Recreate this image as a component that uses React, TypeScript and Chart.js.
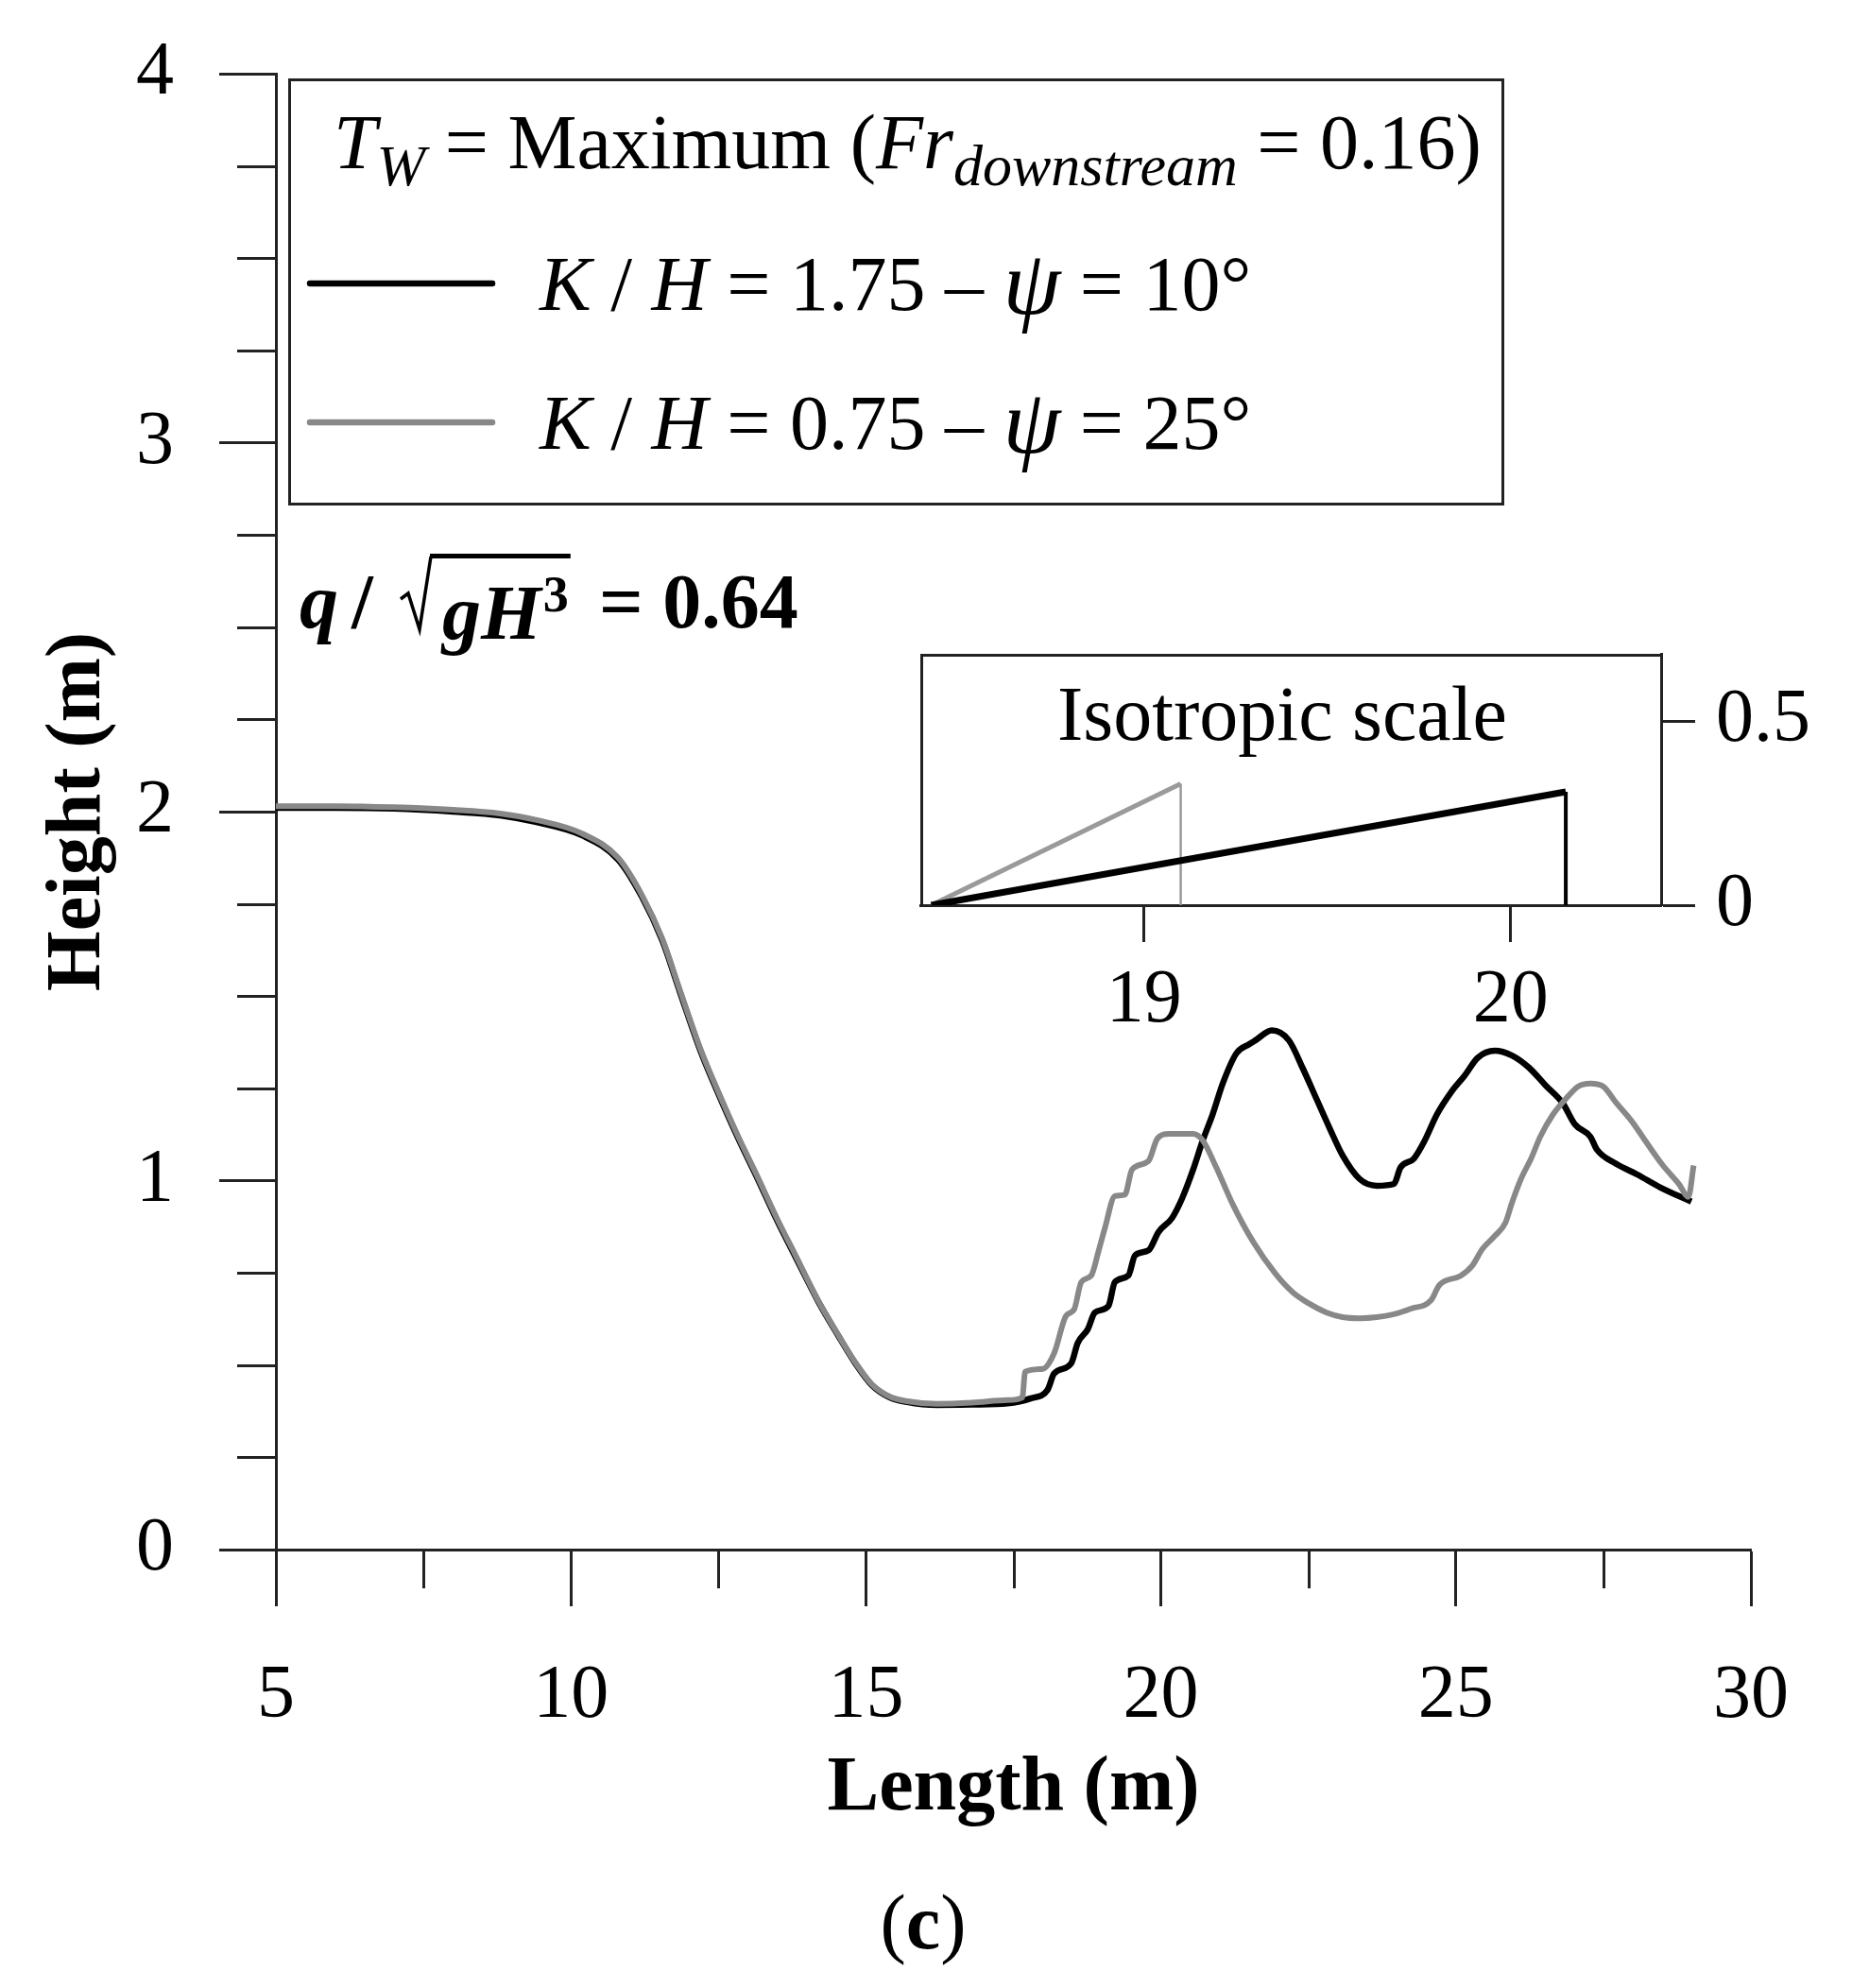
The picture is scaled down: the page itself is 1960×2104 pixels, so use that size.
import React, { useEffect, useRef } from "react";
import { Chart, registerables } from "chart.js";

Chart.register(...registerables);

const SERIF = "'Liberation Serif', 'Times New Roman', serif";
const AXIS = "#222";

// ---- Main chart data (Length in m, Height in m) ----
const lengthK175 = [5.0, 6.0, 7.0, 8.0, 8.8, 9.4, 10.2, 10.8, 11.2, 11.55, 11.85, 12.2, 12.5, 12.82, 13.15, 13.5, 13.8, 14.2, 14.53, 14.82, 15.1, 15.4, 15.7, 16.2, 16.8, 17.4, 17.8, 18.08, 18.19, 18.48, 18.59, 18.76, 18.88, 19.11, 19.22, 19.45, 19.56, 19.79, 19.96, 20.19, 20.36, 20.54, 20.71, 20.88, 21.05, 21.28, 21.5, 21.6, 21.88, 22.17, 22.4, 22.63, 22.86, 23.08, 23.37, 23.66, 23.95, 24.06, 24.29, 24.46, 24.68, 24.92, 25.15, 25.37, 25.66, 25.95, 26.24, 26.52, 26.81, 27.02, 27.28, 27.39, 27.71, 28.08, 28.46, 28.99];
const heightK175 = [2.01, 2.01, 2.008, 2.0, 1.99, 1.972, 1.935, 1.87, 1.77, 1.65, 1.51, 1.35, 1.235, 1.12, 1.01, 0.89, 0.795, 0.67, 0.58, 0.505, 0.446, 0.413, 0.4, 0.392, 0.393, 0.396, 0.41, 0.433, 0.477, 0.505, 0.56, 0.597, 0.642, 0.66, 0.725, 0.743, 0.797, 0.811, 0.861, 0.899, 0.952, 1.027, 1.109, 1.181, 1.264, 1.345, 1.37, 1.38, 1.407, 1.38, 1.306, 1.224, 1.142, 1.068, 1.004, 0.986, 0.991, 1.035, 1.06, 1.105, 1.18, 1.24, 1.285, 1.333, 1.352, 1.339, 1.306, 1.258, 1.21, 1.152, 1.119, 1.084, 1.046, 1.016, 0.982, 0.943];

const lengthK075 = [5.0, 6.0, 7.0, 8.0, 8.8, 9.4, 10.2, 10.8, 11.2, 11.55, 11.85, 12.2, 12.5, 12.82, 13.15, 13.5, 13.8, 14.2, 14.53, 14.82, 15.1, 15.4, 15.7, 16.2, 16.8, 17.4, 17.65, 17.7, 18.0, 18.19, 18.39, 18.53, 18.65, 18.82, 18.94, 19.05, 19.22, 19.39, 19.51, 19.79, 19.94, 20.14, 20.54, 20.71, 20.94, 21.22, 21.56, 21.94, 22.23, 22.52, 22.8, 23.08, 23.37, 23.66, 23.95, 24.24, 24.58, 24.72, 25.08, 25.28, 25.45, 25.66, 25.84, 25.95, 26.11, 26.27, 26.43, 26.64, 26.86, 27.07, 27.28, 27.5, 27.71, 27.98, 28.24, 28.51, 28.78, 28.94, 29.03];
const heightK075 = [2.015, 2.015, 2.012, 2.005, 1.995, 1.978, 1.94, 1.875, 1.775, 1.655, 1.515, 1.355, 1.24, 1.125, 1.015, 0.895, 0.8, 0.672, 0.582, 0.507, 0.448, 0.415, 0.402, 0.395, 0.398, 0.405, 0.412, 0.482, 0.49, 0.532, 0.633, 0.651, 0.725, 0.743, 0.807, 0.871, 0.958, 0.962, 1.03, 1.053, 1.114, 1.127, 1.127, 1.109, 1.035, 0.935, 0.835, 0.748, 0.698, 0.666, 0.643, 0.63, 0.627, 0.63, 0.638, 0.653, 0.676, 0.717, 0.742, 0.77, 0.815, 0.85, 0.886, 0.94, 1.007, 1.058, 1.119, 1.178, 1.221, 1.255, 1.263, 1.255, 1.212, 1.161, 1.101, 1.041, 0.991, 0.956, 1.041];

const seriesLabels = ["K / H = 1.75 – ψ = 10°", "K / H = 0.75 – ψ = 25°"];
const seriesColors = ["#000000", "#888888"];

const xTickLabels = [5, 10, 15, 20, 25, 30];
const yTickLabels = [0, 1, 2, 3, 4];

// ---- Inset (isotropic scale) data ----
const insetLengthK175 = [18.42, 20.15, 20.15];
const insetHeightK175 = [0, 0.308, 0];
const insetLengthK075 = [18.42, 19.1, 19.1];
const insetHeightK075 = [0, 0.33, 0];
const insetXTicks = [19, 20];
const insetYTicks = [0, 0.5];

const toPoints = (xs: number[], ys: number[]) => xs.map((x, i) => ({ x, y: ys[i] }));

const R = (s: number) => `${s}px ${SERIF}`;
const I = (s: number) => `italic ${s}px ${SERIF}`;
const B = (s: number) => `bold ${s}px ${SERIF}`;
const BI = (s: number) => `italic bold ${s}px ${SERIF}`;

type Run = { t: string; font: string; dy?: number; x?: number };

function drawRuns(ctx: CanvasRenderingContext2D, x: number, y: number, runs: Run[]) {
  let cx = x;
  for (const r of runs) {
    if (r.x !== undefined) cx = r.x;
    ctx.font = r.font;
    ctx.fillText(r.t, cx, y + (r.dy || 0));
    cx += ctx.measureText(r.t).width;
  }
  return cx;
}

function measureRuns(ctx: CanvasRenderingContext2D, runs: Run[]) {
  let w = 0;
  for (const r of runs) {
    ctx.font = r.font;
    w += ctx.measureText(r.t).width;
  }
  return w;
}

function richLabel(label: string, size: number): Run[] {
  return label
    .split(/(K|H|ψ)/)
    .filter((s) => s.length > 0)
    .map((s) => {
      if (s === "ψ") return { t: s, font: I(Math.round(size * 1.2)), dy: 4 };
      if (s === "K" || s === "H") return { t: s, font: I(size) };
      return { t: s, font: R(size) };
    });
}

const decorPlugin = {
  id: "decor",
  afterDraw(chart: any) {
    const ctx: CanvasRenderingContext2D = chart.ctx;
    const xs = chart.scales.x;
    const ys = chart.scales.y;
    const area = chart.chartArea;
    ctx.save();
    // minor ticks
    ctx.strokeStyle = AXIS;
    ctx.lineWidth = 3;
    ctx.beginPath();
    for (const t of xs.ticks) {
      if (xTickLabels.includes(t.value)) continue;
      const px = Math.round(xs.getPixelForValue(t.value)) + 0.5;
      ctx.moveTo(px, area.bottom);
      ctx.lineTo(px, area.bottom + 41);
    }
    for (const t of ys.ticks) {
      if (yTickLabels.includes(t.value)) continue;
      const py = Math.round(ys.getPixelForValue(t.value)) + 0.5;
      ctx.moveTo(area.left - 41, py);
      ctx.lineTo(area.left, py);
    }
    ctx.stroke();

    // legend box
    ctx.lineWidth = 3;
    ctx.strokeStyle = AXIS;
    ctx.strokeRect(306.5, 84.5, 1284, 449);
    ctx.fillStyle = "#000";
    ctx.textBaseline = "alphabetic";
    ctx.textAlign = "left";
    drawRuns(ctx, 353, 178, [
      { t: "T", font: I(82) },
      { t: "W", font: I(62), dy: 18 },
      { t: " = Maximum (", font: R(82) },
      { t: "Fr", font: I(82) },
      { t: "downstream", font: I(62), dy: 18 },
      { t: " = 0.16)", font: R(82) },
    ]);
    const rowY = [300, 447];
    const datasets = chart.data.datasets;
    for (let i = 0; i < 2; i++) {
      const ds = datasets[i];
      ctx.strokeStyle = ds.borderColor;
      ctx.lineWidth = 6.5;
      ctx.lineCap = "round";
      ctx.beginPath();
      ctx.moveTo(328, rowY[i]);
      ctx.lineTo(521, rowY[i]);
      ctx.stroke();
      ctx.fillStyle = "#000";
      drawRuns(ctx, 571, rowY[i] + 28, richLabel(ds.label, 82));
    }
    ctx.lineCap = "butt";

    // annotation q / sqrt(gH^3) = 0.64
    ctx.fillStyle = "#000";
    const by = 664;
    drawRuns(ctx, 317, by, [{ t: "q", font: BI(82) }]);
    drawRuns(ctx, 372, by, [{ t: "/", font: B(82) }]);
    ctx.strokeStyle = "#000";
    ctx.lineWidth = 3.5;
    ctx.beginPath();
    ctx.moveTo(424, 634);
    ctx.lineTo(432, 628);
    ctx.lineTo(444, 666);
    ctx.lineTo(456, 589);
    ctx.stroke();
    const endG = drawRuns(ctx, 468, by + 12, [{ t: "gH", font: BI(82) }]);
    const end3 = drawRuns(ctx, endG + 2, 647, [{ t: "3", font: B(54) }]);
    ctx.fillRect(455, 586, end3 - 455 + 2, 5);
    drawRuns(ctx, 634, by, [{ t: "= 0.64", font: B(82) }]);

    // (c)
    const cRuns: Run[] = [
      { t: "(", font: R(82) },
      { t: "c", font: B(82) },
      { t: ")", font: R(82) },
    ];
    const cw = measureRuns(ctx, cRuns);
    drawRuns(ctx, 977 - cw / 2, 2062, cRuns);
    ctx.restore();
  },
};

const insetPlugin = {
  id: "insetDecor",
  afterDraw(chart: any) {
    const ctx: CanvasRenderingContext2D = chart.ctx;
    const a = chart.chartArea;
    ctx.save();
    ctx.strokeStyle = AXIS;
    ctx.lineWidth = 3;
    ctx.beginPath();
    ctx.moveTo(a.left + 1.5, a.bottom);
    ctx.lineTo(a.left + 1.5, a.top + 1.5);
    ctx.lineTo(a.right, a.top + 1.5);
    ctx.stroke();
    ctx.fillStyle = "#000";
    ctx.font = R(82);
    ctx.textAlign = "center";
    ctx.textBaseline = "alphabetic";
    ctx.fillText("Isotropic scale", 407, 103);
    ctx.restore();
  },
};

const tickFont = { family: SERIF, size: 80 };

export default function App() {
  const mainRef = useRef<HTMLCanvasElement | null>(null);
  const insetRef = useRef<HTMLCanvasElement | null>(null);

  useEffect(() => {
    document.body.style.margin = "0";
    document.body.style.overflow = "hidden";
    document.body.style.background = "#fff";
    if (!mainRef.current || !insetRef.current) return;

    const main = new Chart(mainRef.current, {
      type: "line",
      data: {
        datasets: [
          {
            label: seriesLabels[0],
            data: toPoints(lengthK175, heightK175),
            borderColor: seriesColors[0],
            borderWidth: 6.5,
            pointRadius: 0,
            cubicInterpolationMode: "monotone",
            fill: false,
            order: 1,
          },
          {
            label: seriesLabels[1],
            data: toPoints(lengthK075, heightK075),
            borderColor: seriesColors[1],
            borderWidth: 6,
            pointRadius: 0,
            cubicInterpolationMode: "monotone",
            fill: false,
            order: 0,
          },
        ],
      },
      options: {
        responsive: false,
        animation: false,
        devicePixelRatio: 1,
        layout: { padding: { top: 78, right: 107, left: 0, bottom: 0 } },
        plugins: { legend: { display: false }, tooltip: { enabled: false } },
        scales: {
          x: {
            type: "linear",
            min: 5,
            max: 30,
            ticks: {
              stepSize: 2.5,
              autoSkip: false,
              maxRotation: 0,
              minRotation: 0,
              padding: 48,
              color: "#000",
              font: tickFont,
              callback: (v: any) => (xTickLabels.includes(Number(v)) ? String(v) : ""),
            },
            grid: {
              display: true,
              drawOnChartArea: false,
              drawTicks: true,
              tickLength: 60,
              tickWidth: 3,
              tickColor: (c: any) => (c.tick && xTickLabels.includes(c.tick.value) ? AXIS : "rgba(0,0,0,0)"),
            },
            border: { display: true, color: AXIS, width: 3 },
            title: {
              display: true,
              text: "Length (m)",
              color: "#000",
              font: { family: SERIF, size: 82, weight: "bold", lineHeight: 1.2 },
              padding: { top: 0, bottom: 161 },
            },
            afterFit: (s: any) => {
              s.height = 464;
              s.paddingLeft = 0;
              s.paddingRight = 0;
            },
          },
          y: {
            type: "linear",
            min: 0,
            max: 4,
            ticks: {
              stepSize: 0.25,
              autoSkip: false,
              padding: 48,
              color: "#000",
              font: tickFont,
              callback: (v: any) => (yTickLabels.includes(Number(v)) ? String(v) : ""),
            },
            grid: {
              display: true,
              drawOnChartArea: false,
              drawTicks: true,
              tickLength: 60,
              tickWidth: 3,
              tickColor: (c: any) => (c.tick && yTickLabels.includes(c.tick.value) ? AXIS : "rgba(0,0,0,0)"),
            },
            border: { display: true, color: AXIS, width: 3 },
            title: {
              display: true,
              text: "Height (m)",
              color: "#000",
              font: { family: SERIF, size: 82, weight: "bold", lineHeight: 1.2 },
              padding: { top: 35, bottom: 0 },
            },
            afterFit: (s: any) => {
              s.width = 292;
              s.paddingTop = 0;
              s.paddingBottom = 0;
            },
          },
        },
      },
      plugins: [decorPlugin],
    } as any);

    const inset = new Chart(insetRef.current, {
      type: "line",
      data: {
        datasets: [
          {
            label: seriesLabels[0],
            data: toPoints(insetLengthK175, insetHeightK175),
            borderColor: "#000",
            borderWidth: 7,
            pointRadius: 0,
            fill: false,
            segment: { borderWidth: (c: any) => (c.p0.parsed.x === c.p1.parsed.x ? 4 : 7) },
          },
          {
            label: seriesLabels[1],
            data: toPoints(insetLengthK075, insetHeightK075),
            borderColor: "#9a9a9a",
            borderWidth: 5,
            pointRadius: 0,
            fill: false,
            segment: { borderWidth: (c: any) => (c.p0.parsed.x === c.p1.parsed.x ? 2.5 : 5) },
          },
        ],
      },
      options: {
        responsive: false,
        animation: false,
        devicePixelRatio: 1,
        layout: { padding: { top: 12, left: 24, right: 0, bottom: 0 } },
        plugins: { legend: { display: false }, tooltip: { enabled: false } },
        scales: {
          x: {
            type: "linear",
            min: 18.39,
            max: 20.41,
            afterBuildTicks: (s: any) => {
              s.ticks = insetXTicks.map((v) => ({ value: v }));
            },
            ticks: { autoSkip: false, maxRotation: 0, padding: 15, color: "#000", font: tickFont },
            grid: { display: true, drawOnChartArea: false, drawTicks: true, tickLength: 39, tickWidth: 3, tickColor: AXIS },
            border: { display: true, color: AXIS, width: 3 },
            afterFit: (s: any) => {
              s.height = 152;
              s.paddingLeft = 0;
              s.paddingRight = 0;
            },
          },
          y: {
            type: "linear",
            position: "right",
            min: 0,
            max: 0.683,
            afterBuildTicks: (s: any) => {
              s.ticks = insetYTicks.map((v) => ({ value: v }));
            },
            ticks: { autoSkip: false, padding: 22, color: "#000", font: tickFont },
            grid: { display: true, drawOnChartArea: false, drawTicks: true, tickLength: 36, tickWidth: 3, tickColor: AXIS },
            border: { display: true, color: AXIS, width: 3 },
            afterFit: (s: any) => {
              s.width = 202;
              s.paddingTop = 0;
              s.paddingBottom = 0;
            },
          },
        },
      },
      plugins: [insetPlugin],
    } as any);

    return () => {
      main.destroy();
      inset.destroy();
    };
  }, []);

  return (
    <div style={{ position: "relative", width: 1960, height: 2104, background: "#fff" }}>
      <canvas ref={mainRef} width={1960} height={2104} style={{ position: "absolute", left: 0, top: 0 }} />
      <canvas ref={insetRef} width={1010} height={430} style={{ position: "absolute", left: 950, top: 680 }} />
    </div>
  );
}
